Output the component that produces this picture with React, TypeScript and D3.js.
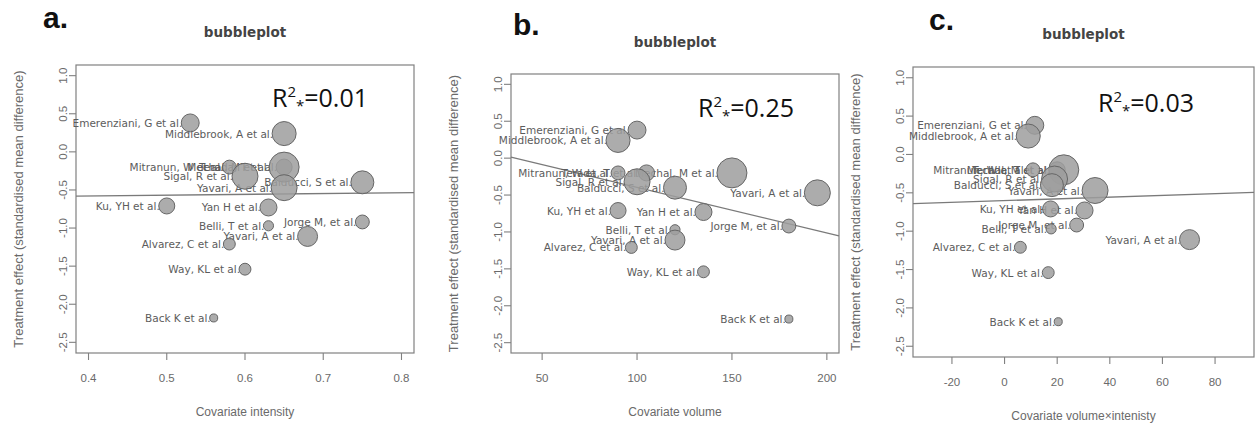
import React from 'react';
import * as d3 from 'd3';

// ---- data ----
const studies = [
  'Emerenziani, G et al.', 'Middlebrook, A et al.', 'Mitranun, W et al.', 'Terada, T et al.',
  'Mechal, M et al.', 'Sigal, R et al.', 'Balducci, S et al.', 'Yavari, A et al.',
  'Ku, YH et al.', 'Yan H et al.', 'Belli, T et al.', 'Jorge M, et al.',
  'Yavari, A et al.', 'Alvarez, C et al.', 'Way, KL et al.', 'Back K et al.',
];
const effect = [0.38, 0.24, -0.2, -0.2, -0.2, -0.32, -0.4, -0.47, -0.71, -0.73, -0.97, -0.92, -1.11, -1.21, -1.54, -2.18];
const weight = [5.0, 9.0, 3.0, 4.0, 14.0, 10.5, 8.2, 10.5, 4.0, 4.5, 1.6, 3.0, 6.2, 2.2, 2.2, 1.0];
const intensity = [0.53, 0.65, 0.58, 0.65, 0.65, 0.6, 0.75, 0.65, 0.5, 0.63, 0.63, 0.75, 0.68, 0.58, 0.6, 0.56];
const volume = [100, 90, 90, 105, 150, 100, 120, 195, 90, 135, 120, 180, 120, 97, 135, 180];
const volInt = [11.5, 9, 10.8, 20, 22.5, 19, 18, 34.4, 17.5, 30.4, 17.7, 27.4, 70.3, 6, 16.6, 20.4];

const yTicks = [1.0, 0.5, 0.0, -0.5, -1.0, -1.5, -2.0, -2.5];
const xTicksA = [0.4, 0.5, 0.6, 0.7, 0.8];
const xTicksB = [50, 100, 150, 200];
const xTicksC = [-20, 0, 20, 40, 60, 80];
const fitSlope = [0.102, -0.00618, 0.00114];
const fitIntercept = [-0.619, 0.222, -0.602];
const r2Values = ['0.01', '0.25', '0.03'];

const panels = [
  { letter: 'a.', xs: intensity, xDomain: [0.384, 0.816], xTicks: xTicksA, fmt: (v: number) => v.toFixed(1), xTitle: 'Covariate intensity',
    box: { l: 76, r: 414, t: 65, b: 353 }, letterPos: [43, 28], titleY: 37, r2Pos: [272, 107] },
  { letter: 'b.', xs: volume, xDomain: [33.6, 206.4], xTicks: xTicksB, fmt: (v: number) => String(v), xTitle: 'Covariate volume',
    box: { l: 511, r: 839, t: 74, b: 353 }, letterPos: [513, 35], titleY: 47, r2Pos: [698, 117] },
  { letter: 'c.', xs: volInt, xDomain: [-34.8, 94.8], xTicks: xTicksC, fmt: (v: number) => String(v), xTitle: 'Covariate volume×intenisty',
    box: { l: 913, r: 1254, t: 67, b: 357 }, letterPos: [929, 30], titleY: 39, r2Pos: [1098, 112] },
];

const rScale = d3.scaleSqrt().domain([0, 14]).range([0, 15]);

function Panel({ p, i }: { p: any; i: number }) {
  const { box } = p;
  const x = d3.scaleLinear().domain(p.xDomain).range([box.l, box.r]);
  const y = d3.scaleLinear().domain([-2.64, 1.14]).range([box.b, box.t]);
  const cxMid = (box.l + box.r) / 2;
  const cyMid = (box.t + box.b) / 2;
  const line = d3.line<number>().x((d) => x(d)).y((d) => y(fitIntercept[i] + fitSlope[i] * d));
  const axisCol = '#808080';
  const textCol = '#6a6a6a';
  return (
    <g>
      <text x={p.letterPos[0]} y={p.letterPos[1]} fontFamily="Liberation Sans, Arial, sans-serif" fontWeight="bold" fontSize={30} fill="#111">{p.letter}</text>
      <text x={cxMid} y={p.titleY} textAnchor="middle" fontFamily="DejaVu Sans, sans-serif" fontWeight="bold" fontSize={13.5} fill="#444">bubbleplot</text>
      <rect x={box.l} y={box.t} width={box.r - box.l} height={box.b - box.t} fill="none" stroke={axisCol} strokeWidth={1.2} />
      {yTicks.map((t) => (
        <g key={'y' + t}>
          <line x1={box.l - 7} x2={box.l} y1={y(t)} y2={y(t)} stroke={axisCol} strokeWidth={1.1} />
          <text transform={`translate(${box.l - 13},${y(t)}) rotate(-90)`} textAnchor="middle" dominantBaseline="central"
            fontFamily="Liberation Sans, Arial, sans-serif" fontSize={11.5} fill={textCol}>{t.toFixed(1)}</text>
        </g>
      ))}
      {p.xTicks.map((t: number) => (
        <g key={'x' + t}>
          <line x1={x(t)} x2={x(t)} y1={box.b} y2={box.b + 7} stroke={axisCol} strokeWidth={1.1} />
          <text x={x(t)} y={box.b + 29} textAnchor="middle" fontFamily="Liberation Sans, Arial, sans-serif" fontSize={11.5} fill={textCol}>{p.fmt(t)}</text>
        </g>
      ))}
      <text x={cxMid} y={box.b + 63} textAnchor="middle" fontFamily="Liberation Sans, Arial, sans-serif" fontSize={12} fill={textCol}>{p.xTitle}</text>
      <text transform={`translate(${box.l - 58},${cyMid}) rotate(-90)`} textAnchor="middle" dominantBaseline="central"
        fontFamily="Liberation Sans, Arial, sans-serif" fontSize={13} fill={textCol}>Treatment effect (standardised mean difference)</text>
      <path d={line(p.xDomain) || ''} stroke="#7a7a7a" strokeWidth={1.3} fill="none" />
      {studies.map((s, k) => (
        <text key={'l' + k} x={x(p.xs[k]) - rScale(weight[k]) + 1} y={y(effect[k])} textAnchor="end" dominantBaseline="central"
          fontFamily="DejaVu Sans, sans-serif" fontSize={10.5} fill="#5c5c5c">{s}</text>
      ))}
      {studies.map((s, k) => (
        <circle key={'c' + k} cx={x(p.xs[k])} cy={y(effect[k])} r={rScale(weight[k])} fill="#9d9d9d" fillOpacity={0.85} stroke="#666" strokeWidth={1} />
      ))}
      <text x={p.r2Pos[0]} y={p.r2Pos[1]} fontFamily="Open Sans, sans-serif" fontSize={25} fill="#111">
        R<tspan fontSize={15} dy={-10}>2</tspan><tspan fontSize={15} dy={14}>*</tspan><tspan dy={-4}>=</tspan>{r2Values[i]}
      </text>
    </g>
  );
}

export default function App() {
  return (
    <svg width={1257} height={427} style={{ position: 'absolute', left: 0, top: 0, background: '#fff' }}>
      <rect width={1257} height={427} fill="#fff" />
      {panels.map((p, i) => <Panel key={i} p={p} i={i} />)}
    </svg>
  );
}
